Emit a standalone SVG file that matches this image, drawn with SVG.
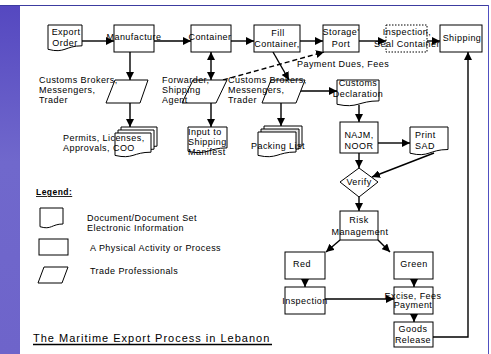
<svg xmlns="http://www.w3.org/2000/svg" width="491" height="354" viewBox="0 0 491 354">
<style>
.box{fill:#fff;stroke:#000;stroke-width:1}
.dot{fill:#fff;stroke:#000;stroke-width:1;stroke-dasharray:1.5 1.5}
.t{font-family:"Liberation Sans",Arial,sans-serif;font-size:9px;letter-spacing:0.45px;fill:#000}
.c{text-anchor:middle}
.ln{stroke:#000;stroke-width:1.4;fill:none}
.ar{marker-end:url(#ah)}
.dash{stroke-dasharray:5 3}
</style>
<defs>
<marker id="ah" markerUnits="userSpaceOnUse" markerWidth="9" markerHeight="8" refX="8" refY="4" orient="auto">
<path d="M0,0 L8,4 L0,8 Z" fill="#000"/>
</marker>
<marker id="as" markerUnits="userSpaceOnUse" markerWidth="9" markerHeight="8" refX="0" refY="4" orient="auto">
<path d="M8,0 L0,4 L8,8 Z" fill="#000"/>
</marker>
<linearGradient id="strip" x1="0" y1="0" x2="0" y2="1">
<stop offset="0" stop-color="#5548c0"/>
<stop offset="0.45" stop-color="#7068cc"/>
<stop offset="1" stop-color="#6e64ca"/>
</linearGradient>
</defs>
<rect x="0" y="0" width="491" height="354" fill="#fff"/>
<rect x="0" y="5" width="20" height="349" fill="url(#strip)"/>
<line x1="0" y1="5.5" x2="488.5" y2="5.5" stroke="#3c3ca0" stroke-width="1"/>
<line x1="488.5" y1="5" x2="488.5" y2="354" stroke="#5050c0" stroke-width="1"/>

<g id="connectors">
<line class="ln ar" x1="82" y1="41" x2="114" y2="41"/>
<line class="ln ar" x1="154" y1="41" x2="191" y2="41"/>
<line class="ln ar" x1="231" y1="41" x2="254" y2="41"/>
<line class="ln ar" x1="300" y1="41" x2="323" y2="41"/>
<line class="ln ar" x1="359" y1="41" x2="386" y2="41"/>
<line class="ln ar" x1="427" y1="41" x2="440" y2="41"/>
<line class="ln ar" x1="130" y1="52" x2="130" y2="80"/>
<line class="ln ar" x1="130" y1="103" x2="130" y2="127"/>
<line class="ln ar" x1="211" y1="52" x2="211" y2="80" style="marker-start:url(#as)"/>
<line class="ln ar" x1="211" y1="103" x2="211" y2="127"/>
<line class="ln ar" x1="273" y1="52" x2="289" y2="80"/>
<line class="ln ar" x1="281" y1="103" x2="281" y2="126"/>
<line class="ln ar" x1="298" y1="91" x2="337" y2="91"/>
<line class="ln ar dash" x1="223" y1="80" x2="324" y2="52"/>
<line class="ln ar" x1="359" y1="105" x2="359" y2="122"/>
<line class="ln ar" x1="378" y1="143" x2="410" y2="143"/>
<line class="ln ar" x1="359" y1="153" x2="359" y2="168"/>
<line class="ln ar" x1="434" y1="153" x2="372" y2="177"/>
<line class="ln ar" x1="359" y1="197" x2="359" y2="211"/>
<line class="ln ar" x1="340" y1="240" x2="326" y2="252"/>
<line class="ln ar" x1="378" y1="240" x2="390" y2="252"/>
<line class="ln ar" x1="305" y1="279" x2="305" y2="287"/>
<line class="ln ar" x1="325" y1="299" x2="394" y2="299"/>
<line class="ln ar" x1="414" y1="279" x2="414" y2="287"/>
<line class="ln ar" x1="414" y1="314" x2="414" y2="322"/>
<polyline class="ln ar" points="433,337 468,337 468,52"/>
</g>

<g id="export-order">
<path class="box" d="M48,25 H82 V45.8 C65,45.8 65,53.8 48,49.3 Z"/>
<text class="t c" x="66" y="35">Export</text>
<text class="t c" x="65" y="46">Order</text>
</g>
<g id="manufacture">
<rect class="box" x="114" y="25" width="40" height="27"/>
<text class="t c" x="134" y="40">Manufacture</text>
</g>
<g id="container">
<rect class="box" x="191" y="25" width="40" height="27"/>
<text class="t c" x="210" y="40">Container</text>
</g>
<g id="fill-container">
<rect class="box" x="254" y="25" width="46" height="27"/>
<text class="t c" x="278" y="36">Fill</text>
<text class="t c" x="277" y="47">Container,</text>
</g>
<g id="storage-port">
<rect class="box" x="323" y="25" width="36" height="27"/>
<text class="t c" x="341" y="35">Storage'</text>
<text class="t c" x="341" y="47">Port</text>
</g>
<g id="inspection-seal">
<rect class="dot" x="386" y="25" width="41" height="27"/>
<text class="t c" x="407" y="35">Inspection,</text>
<text class="t c" x="407" y="47">Seal Container</text>
</g>
<g id="shipping">
<rect class="box" x="440" y="25" width="42" height="27"/>
<text class="t c" x="462" y="41">Shipping</text>
</g>

<g id="brokers-1">
<polygon class="box" points="115,80 148,80 140,103 106,103"/>
<text class="t" x="39" y="83">Customs Brokers,</text>
<text class="t" x="39" y="93">Messengers,</text>
<text class="t" x="39" y="103">Trader</text>
</g>
<g id="forwarder">
<polygon class="box" points="193,80 227,80 216,103 182,103"/>
<text class="t" x="162" y="83">Forwarder,</text>
<text class="t" x="162" y="93">Shipping</text>
<text class="t" x="162" y="103">Agent</text>
</g>
<g id="brokers-2">
<polygon class="box" points="271,80 305,80 296,103 262,103"/>
<text class="t" x="228" y="83">Customs Brokers,</text>
<text class="t" x="228" y="93">Messengers,</text>
<text class="t" x="228" y="103">Trader</text>
</g>
<g id="payment-label">
<text class="t" x="297" y="67">Payment Dues, Fees</text>
</g>

<g id="permits">
<path class="box" transform="translate(6,-6)" d="M115,133 H151 V152.2 C133,152.2 133,159.6 115,155.4 Z"/>
<path class="box" transform="translate(3,-3)" d="M115,133 H151 V152.2 C133,152.2 133,159.6 115,155.4 Z"/>
<path class="box" d="M115,133 H151 V152.2 C133,152.2 133,159.6 115,155.4 Z"/>
<text class="t" x="63" y="141">Permits, Licenses,</text>
<text class="t" x="63" y="151">Approvals, COO</text>
</g>
<g id="input-manifest">
<path class="box" d="M188,127 H227 V147.9 C207.5,147.9 207.5,155.8 188,151.3 Z"/>
<text class="t" x="188" y="135">Input to</text>
<text class="t" x="188" y="145">Shipping</text>
<text class="t" x="188" y="155">Manifest</text>
</g>
<g id="packing-list">
<path class="box" transform="translate(6,-6)" d="M258,132 H296 V152 C277,152 277,159.7 258,155.4 Z"/>
<path class="box" transform="translate(3,-3)" style="fill:#e2e2e2" d="M258,132 H296 V152 C277,152 277,159.7 258,155.4 Z"/>
<path class="box" d="M258,132 H296 V152 C277,152 277,159.7 258,155.4 Z"/>
<text class="t" x="251" y="149">Packing List</text>
</g>
<g id="customs-declaration">
<path class="box" d="M337,80 H379 V100.9 C358,100.9 358,108.8 337,104.3 Z"/>
<text class="t c" x="358" y="86">Customs</text>
<text class="t c" x="358" y="97">Declaration</text>
</g>
<g id="najm-noor">
<rect class="box" x="340" y="122" width="38" height="31"/>
<text class="t c" x="359" y="138">NAJM,</text>
<text class="t c" x="359" y="149">NOOR</text>
</g>
<g id="print-sad">
<path class="box" d="M410,127 H448 V149.5 C429,149.5 429,158 410,153.2 Z"/>
<text class="t" x="415" y="138">Print</text>
<text class="t" x="415" y="149">SAD</text>
</g>
<g id="verify">
<polygon class="box" points="359,168 378,182 359,197 340,182"/>
<text class="t c" x="359" y="185">Verify</text>
</g>
<g id="risk-management">
<rect class="box" x="340" y="211" width="38" height="29"/>
<text class="t c" x="359" y="223">Risk</text>
<text class="t c" x="360" y="235">Management</text>
</g>
<g id="red">
<rect class="box" x="285" y="252" width="40" height="27"/>
<text class="t c" x="302" y="267">Red</text>
</g>
<g id="green">
<rect class="box" x="394" y="252" width="39" height="27"/>
<text class="t c" x="414" y="267">Green</text>
</g>
<g id="inspection">
<rect class="box" x="285" y="287" width="40" height="27"/>
<text class="t c" x="305" y="304">Inspection</text>
</g>
<g id="excise-fees">
<rect class="box" x="394" y="287" width="39" height="27"/>
<text class="t c" x="413" y="299">Excise, Fees</text>
<text class="t c" x="413" y="308">Payment</text>
</g>
<g id="goods-release">
<rect class="box" x="394" y="322" width="39" height="25"/>
<text class="t c" x="413" y="332">Goods</text>
<text class="t c" x="413" y="343">Release</text>
</g>

<g id="legend">
<text class="t" x="36" y="195" style="font-weight:bold;font-size:8.5px;text-decoration:underline">Legend:</text>
<path class="box" d="M40,208 H63 V224 C51.5,224 51.5,230.2 40,226.7 Z"/>
<text class="t" x="87" y="221">Document/Document Set</text>
<text class="t" x="87" y="231">Electronic Information</text>
<rect class="box" x="39" y="239" width="29" height="16"/>
<text class="t" x="90" y="251">A Physical Activity or Process</text>
<polygon class="box" points="44,267 68,267 62,283 38,283"/>
<text class="t" x="90" y="274">Trade Professionals</text>
</g>

<g id="title">
<text x="33" y="342" style="font-family:'Liberation Sans',Arial,sans-serif;font-size:11px;letter-spacing:1px;fill:#000">The Maritime Export Process in Lebanon</text>
<line x1="33" y1="344.5" x2="272" y2="344.5" stroke="#000" stroke-width="1.5"/>
</g>
</svg>
